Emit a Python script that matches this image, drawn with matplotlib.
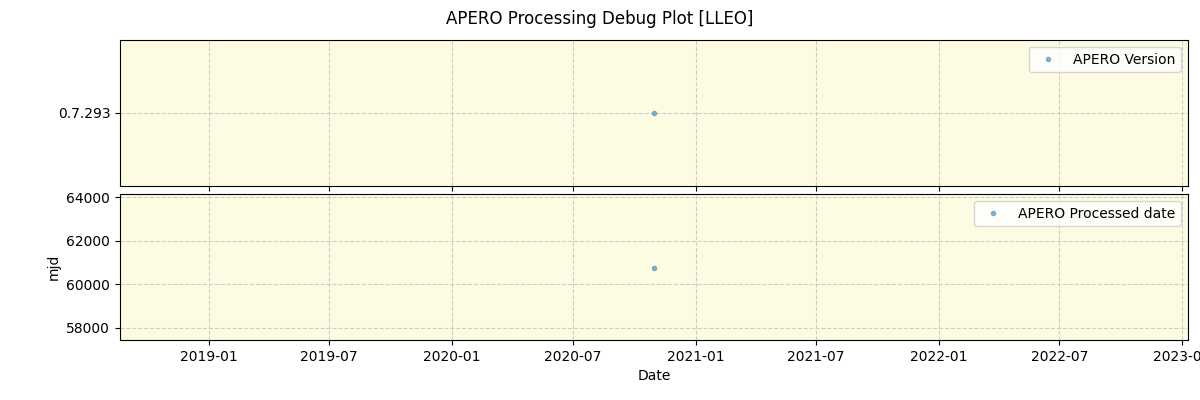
import datetime as dt

import matplotlib
matplotlib.use('Agg')
import matplotlib.pyplot as plt
import matplotlib.dates as mdates

BG_COLOR = '#FDFCE3'
POINT_COLOR = '#1f77b4'

dates = [dt.datetime(2020, 10, 31)]
versions = ['0.7.293']
processed_mjd = [60770]

x_min = dt.datetime(2018, 8, 21)
x_max = dt.datetime(2023, 1, 10)

figure = plt.figure(figsize=(12, 4), dpi=100)
ax_top = figure.add_axes([0.1, 0.535, 0.89, 0.365])
ax_bottom = figure.add_axes([0.1, 0.15, 0.89, 0.365], sharex=ax_top)

for ax in (ax_top, ax_bottom):
    ax.set_facecolor(BG_COLOR)
    ax.grid(True, linestyle='--', color='#cccccc')

ax_top.plot(dates, versions, '.', color=POINT_COLOR, alpha=0.5, label='APERO Version')
ax_top.set_ylim(-1, 1)
ax_top.legend(loc='upper right')
ax_top.tick_params(axis='x', labelbottom=False)

ax_bottom.plot(dates, processed_mjd, '.', color=POINT_COLOR, alpha=0.5, label='APERO Processed date')
ax_bottom.set_ylim(57450, 64140)
ax_bottom.set_yticks([58000, 60000, 62000, 64000])
ax_bottom.set_ylabel('mjd')
ax_bottom.set_xlabel('Date')
ax_bottom.legend(loc='upper right')

ax_bottom.set_xlim(x_min, x_max)
ax_bottom.xaxis.set_major_locator(mdates.MonthLocator(bymonth=[1, 7]))
ax_bottom.xaxis.set_major_formatter(mdates.DateFormatter('%Y-%m'))

figure.suptitle('APERO Processing Debug Plot [LLEO]', y=0.975)
figure.savefig('out.png')
